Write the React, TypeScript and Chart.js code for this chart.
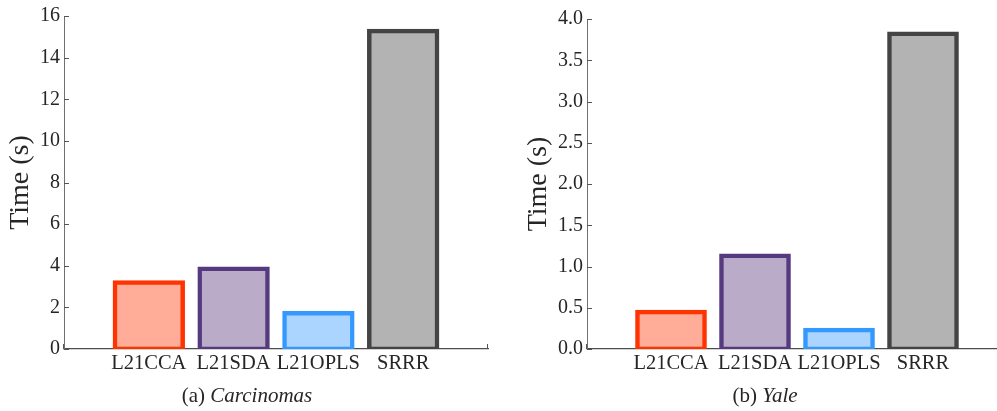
import React, { useEffect, useRef } from 'react';
import { Chart, registerables } from 'chart.js';

Chart.register(...registerables);

// ---- data ----
const categories = ['', 'L21CCA', 'L21SDA', 'L21OPLS', 'SRRR', ''];
const carcinomasTimes = [null, 3.2, 3.85, 1.72, 15.28, null];
const yaleTimes = [null, 0.45, 1.13, 0.23, 3.82, null];
const carcinomasAxis = { min: 0, max: 16, step: 2, decimals: 0 };
const yaleAxis = { min: 0, max: 4, step: 0.5, decimals: 1 };
const fillColors = ['#ffffff', '#FFAD99', '#BAABC9', '#ABD5FF', '#B3B3B3', '#ffffff'];
const borderColors = ['#ffffff', '#FF3300', '#553A80', '#3399FF', '#444444', '#ffffff'];

const FONT = '"Liberation Serif", "DejaVu Serif", serif';
const TEXT = '#262626';

type PanelProps = {
  canvasLeft: number;
  canvasWidth: number;
  yAxisWidth: number;
  padTop: number;
  padRight: number;
  values: (number | null)[];
  axis: { min: number; max: number; step: number; decimals: number };
  captionPrefix: string;
  captionItalic: string;
  captionX: number;
  titleX: number;
};

function Panel(p: PanelProps) {
  const ref = useRef<HTMLCanvasElement | null>(null);
  useEffect(() => {
    if (!ref.current) return;
    const decorations = {
      id: 'decorations',
      beforeDatasetsDraw(chart: any) {
        const { ctx, chartArea, scales } = chart;
        const x = scales.x;
        const y = scales.y;
        ctx.save();
        ctx.strokeStyle = '#555555';
        ctx.lineWidth = 1;
        ctx.beginPath();
        y.ticks.forEach((_t: any, i: number) => {
          const py = Math.round(y.getPixelForTick(i)) + 0.5;
          ctx.moveTo(chartArea.left, py);
          ctx.lineTo(chartArea.left + 5, py);
        });
        x.ticks.forEach((_t: any, i: number) => {
          const px = Math.round(x.getPixelForTick(i)) - 0.5;
          ctx.moveTo(px, chartArea.bottom);
          ctx.lineTo(px, chartArea.bottom - 5);
        });
        ctx.stroke();
        ctx.restore();
      },
      afterDraw(chart: any) {
        const { ctx, chartArea } = chart;
        ctx.save();
        ctx.fillStyle = TEXT;
        // y title
        ctx.translate(p.titleX, (chartArea.top + chartArea.bottom) / 2);
        ctx.rotate(-Math.PI / 2);
        ctx.font = `28px ${FONT}`;
        ctx.textAlign = 'center';
        ctx.textBaseline = 'middle';
        ctx.fillText('Time (s)', 0, 0);
        ctx.restore();
        // caption
        ctx.save();
        ctx.fillStyle = TEXT;
        ctx.textBaseline = 'middle';
        ctx.textAlign = 'left';
        const normal = `21px ${FONT}`;
        const italic = `italic 21px ${FONT}`;
        ctx.font = normal;
        const w1 = ctx.measureText(p.captionPrefix).width;
        ctx.font = italic;
        const w2 = ctx.measureText(p.captionItalic).width;
        const start = p.captionX - (w1 + w2) / 2;
        ctx.font = normal;
        ctx.fillText(p.captionPrefix, start, 396);
        ctx.font = italic;
        ctx.fillText(p.captionItalic, start + w1, 396);
        ctx.restore();
      },
    };
    const chart = new Chart(ref.current, {
      type: 'bar',
      data: {
        labels: categories,
        datasets: [
          {
            data: p.values as any,
            backgroundColor: fillColors,
            borderColor: borderColors,
            borderWidth: 4.5,
            borderSkipped: false,
            inflateAmount: 2.25,
            categoryPercentage: 0.8,
            barPercentage: 1,
          } as any,
        ],
      },
      options: {
        responsive: false,
        animation: false,
        devicePixelRatio: 1,
        events: [],
        layout: { padding: { left: 0, right: p.padRight, top: p.padTop, bottom: 0 } },
        plugins: {
          legend: { display: false },
          tooltip: { enabled: false },
        },
        scales: {
          x: {
            type: 'category',
            offset: false,
            grid: { display: false, drawTicks: false },
            border: { display: true, color: '#4d4d4d', width: 1.3 },
            ticks: {
              autoSkip: false,
              maxRotation: 0,
              minRotation: 0,
              padding: 2,
              color: TEXT,
              font: { family: FONT, size: 20.5 },
            },
            afterFit(scale: any) {
              scale.height = 62;
            },
          },
          y: {
            min: p.axis.min,
            max: p.axis.max,
            grid: { display: false, drawTicks: false },
            border: { display: true, color: '#707070', width: 1 },
            ticks: {
              stepSize: p.axis.step,
              padding: 4,
              color: TEXT,
              font: { family: FONT, size: 20 },
              callback: (v: any) => Number(v).toFixed(p.axis.decimals),
            },
            afterFit(scale: any) {
              scale.width = p.yAxisWidth;
            },
          },
        },
      } as any,
      plugins: [decorations],
    });
    return () => chart.destroy();
  }, []);
  return (
    <canvas
      ref={ref}
      width={p.canvasWidth}
      height={411}
      style={{ position: 'absolute', left: p.canvasLeft, top: 0, width: p.canvasWidth, height: 411 }}
    />
  );
}

export default function App() {
  return (
    <div
      style={{
        position: 'fixed',
        left: 0,
        top: 0,
        width: 997,
        height: 411,
        overflow: 'hidden',
        background: '#ffffff',
      }}
    >
      <Panel
        canvasLeft={0}
        canvasWidth={500}
        yAxisWidth={64}
        padTop={15}
        padRight={12}
        values={carcinomasTimes}
        axis={carcinomasAxis}
        captionPrefix="(a) "
        captionItalic="Carcinomas"
        captionX={247}
        titleX={21}
      />
      <Panel
        canvasLeft={500}
        canvasWidth={520}
        yAxisWidth={87}
        padTop={19}
        padRight={13}
        values={yaleTimes}
        axis={yaleAxis}
        captionPrefix="(b) "
        captionItalic="Yale"
        captionX={265}
        titleX={39}
      />
    </div>
  );
}
